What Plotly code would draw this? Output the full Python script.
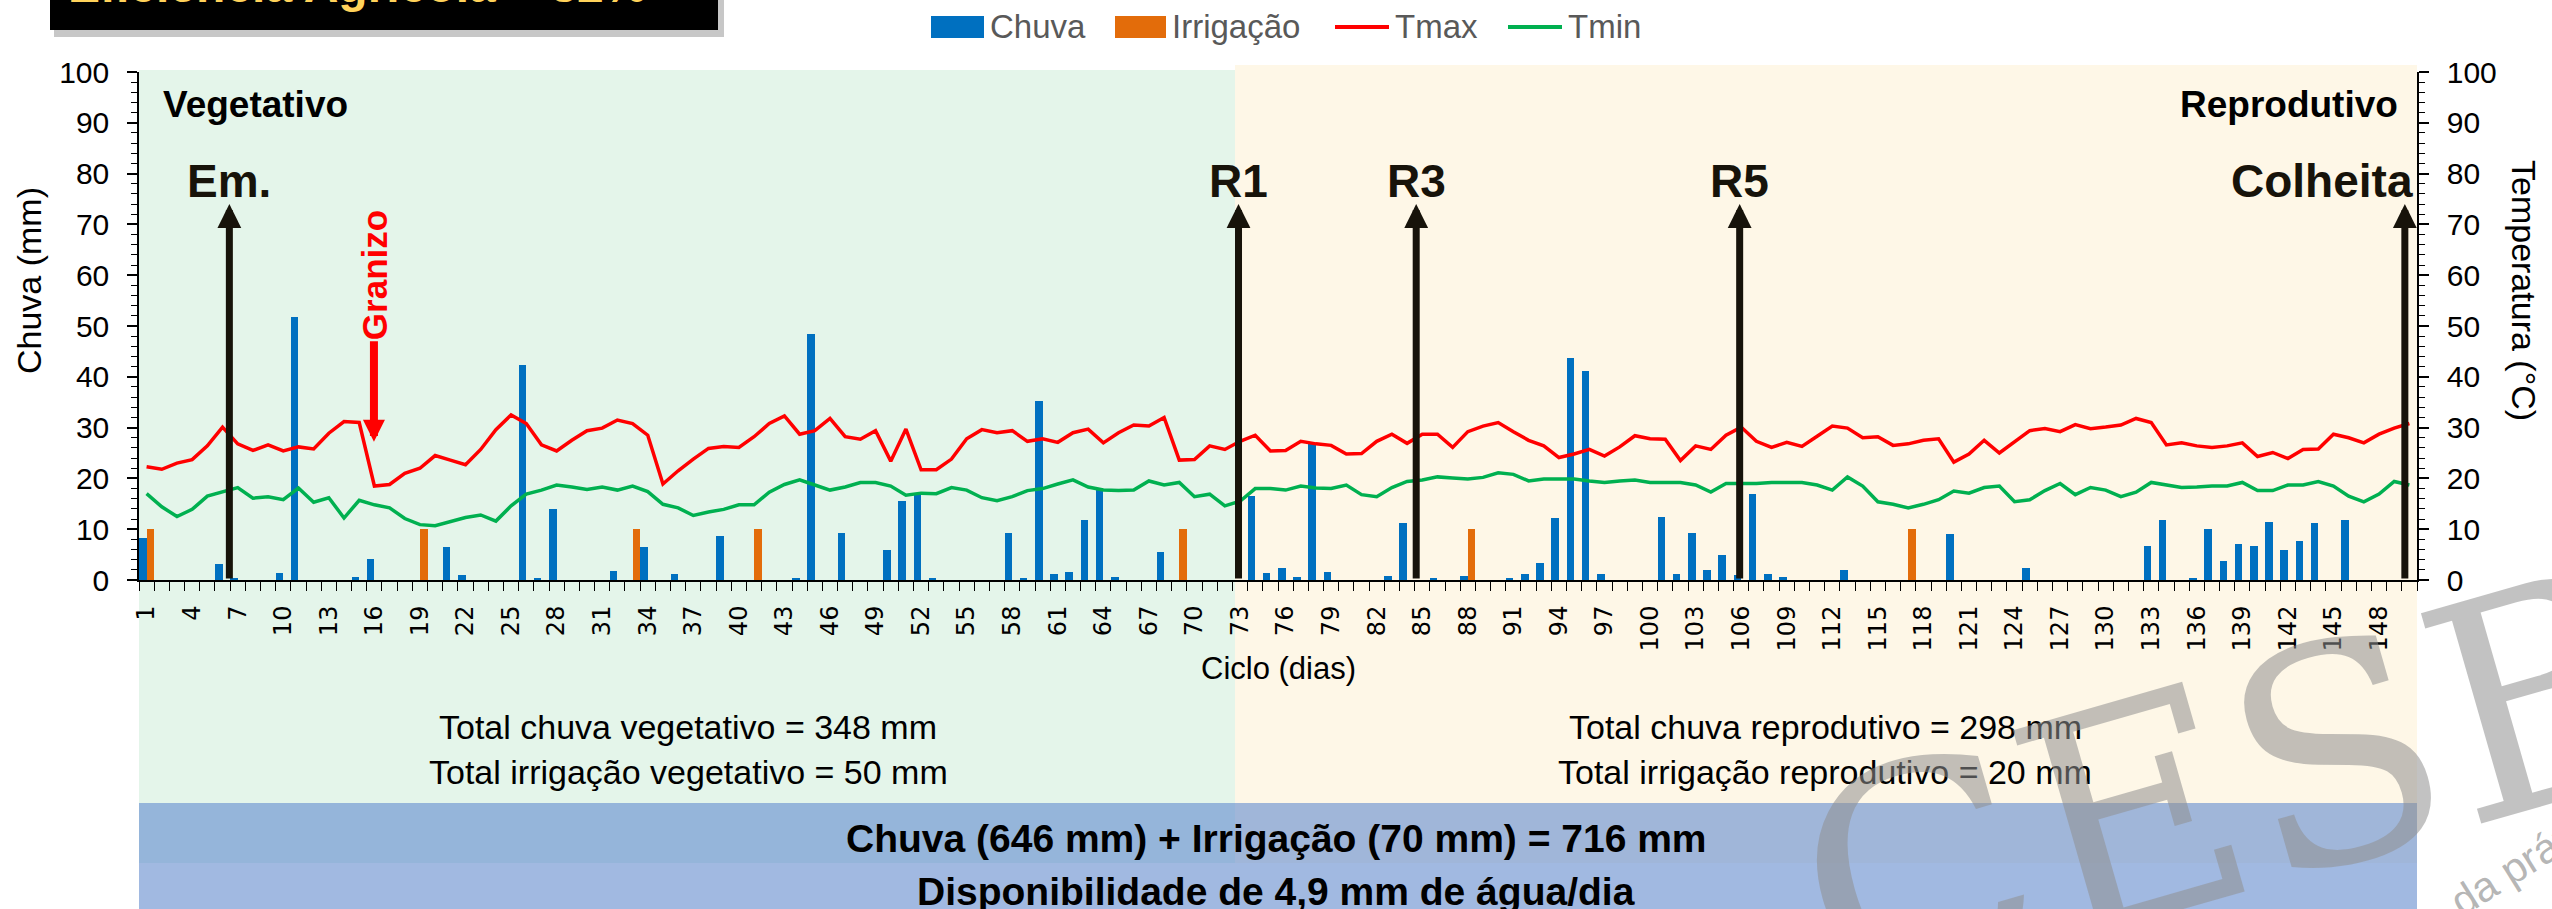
import plotly.graph_objects as go

# ---------------- data ----------------
days = list(range(1, 151))

chuva = [
    8.2, 0, 0, 0, 0, 3.2, 0.3, 0, 0, 1.3,
    51.8, 0, 0, 0, 0.6, 4.2, 0, 0, 0, 0,
    6.5, 0.9, 0, 0, 0, 42.4, 0.4, 13.9, 0, 0,
    0, 1.8, 0, 6.5, 0, 1.1, 0, 0, 8.7, 0,
    0, 0, 0, 0.4, 48.4, 0, 9.3, 0, 0, 6.0,
    15.5, 16.7, 0.4, 0, 0, 0, 0, 9.3, 0.4, 35.2,
    1.1, 1.5, 11.8, 18.0, 0.6, 0, 0, 5.6, 0, 0,
    0, 0, 0, 16.5, 1.3, 2.4, 0.6, 26.8, 1.5, 0,
    0, 0, 0.8, 11.3, 0, 0.4, 0, 0.8, 0, 0,
    0.4, 1.1, 3.4, 12.3, 43.7, 41.1, 1.1, 0, 0, 0,
    12.5, 1.1, 9.3, 1.9, 4.9, 0.9, 16.9, 1.1, 0.6, 0,
    0, 0, 1.9, 0, 0, 0, 0, 0, 0, 9.0,
    0, 0, 0, 0, 2.4, 0, 0, 0, 0, 0,
    0, 0, 6.7, 11.8, 0, 0.4, 10.0, 3.7, 7.0, 6.7,
    11.5, 6.0, 7.7, 11.3, 0, 11.8, 0, 0, 0, 0,
]

irrigacao = [
    10, 0, 0, 0, 0, 0, 0, 0, 0, 0,
    0, 0, 0, 0, 0, 0, 0, 0, 10, 0,
    0, 0, 0, 0, 0, 0, 0, 0, 0, 0,
    0, 0, 10, 0, 0, 0, 0, 0, 0, 0,
    10, 0, 0, 0, 0, 0, 0, 0, 0, 0,
    0, 0, 0, 0, 0, 0, 0, 0, 0, 0,
    0, 0, 0, 0, 0, 0, 0, 0, 10, 0,
    0, 0, 0, 0, 0, 0, 0, 0, 0, 0,
    0, 0, 0, 0, 0, 0, 0, 10, 0, 0,
    0, 0, 0, 0, 0, 0, 0, 0, 0, 0,
    0, 0, 0, 0, 0, 0, 0, 0, 0, 0,
    0, 0, 0, 0, 0, 0, 10, 0, 0, 0,
    0, 0, 0, 0, 0, 0, 0, 0, 0, 0,
    0, 0, 0, 0, 0, 0, 0, 0, 0, 0,
    0, 0, 0, 0, 0, 0, 0, 0, 0, 0,
]

tmax = [
    22.3, 21.8, 23.0, 23.7, 26.4, 30.1, 26.8, 25.5, 26.6, 25.4,
    26.2, 25.8, 28.9, 31.2, 31.0, 18.5, 18.8, 21.0, 22.0, 24.5,
    23.6, 22.7, 25.7, 29.6, 32.5, 30.8, 26.6, 25.4, 27.5, 29.4,
    29.9, 31.5, 30.8, 28.5, 18.9, 21.5, 23.8, 25.9, 26.3, 26.1,
    28.2, 30.8, 32.3, 28.7, 29.4, 31.8, 28.2, 27.7, 29.4, 23.4,
    29.7, 21.7, 21.7, 23.8, 27.8, 29.6, 29.0, 29.4, 27.3, 27.8,
    27.1, 29.0, 29.7, 27.0, 29.0, 30.5, 30.3, 32.0, 23.6, 23.7,
    26.4, 25.7, 27.3, 28.5, 25.4, 25.5, 27.3, 26.8, 26.5, 24.8,
    24.9, 27.3, 28.7, 26.9, 28.7, 28.7, 26.1, 29.2, 30.3, 31.0,
    29.2, 27.5, 26.4, 24.1, 24.8, 25.7, 24.4, 26.2, 28.4, 27.8,
    27.7, 23.5, 26.4, 25.7, 28.5, 30.1, 27.3, 26.1, 27.1, 26.3,
    28.3, 30.3, 29.9, 28.0, 28.2, 26.5, 26.8, 27.5, 27.8, 23.2,
    24.8, 27.5, 25.0, 27.3, 29.4, 29.8, 29.2, 30.6, 29.8, 30.1,
    30.5, 31.8, 31.0, 26.6, 27.0, 26.4, 26.1, 26.4, 27.0, 24.3,
    25.1, 23.9, 25.7, 25.8, 28.7, 28.0, 27.0, 28.7, 29.9, 30.8,
]

tmin = [
    17.0, 14.4, 12.5, 13.9, 16.5, 17.3, 18.2, 16.1, 16.4, 15.8,
    18.1, 15.3, 16.2, 12.2, 15.7, 14.8, 14.2, 12.1, 10.9, 10.7,
    11.5, 12.3, 12.8, 11.6, 14.6, 16.9, 17.7, 18.7, 18.3, 17.8,
    18.3, 17.7, 18.5, 17.4, 14.9, 14.2, 12.7, 13.4, 13.9, 14.8,
    14.8, 17.3, 18.8, 19.7, 18.7, 17.7, 18.3, 19.2, 19.2, 18.5,
    16.7, 17.1, 17.0, 18.2, 17.7, 16.2, 15.6, 16.4, 17.6, 18.0,
    18.9, 19.7, 18.3, 17.7, 17.6, 17.7, 19.5, 18.7, 19.2, 16.4,
    16.9, 14.6, 15.5, 18.0, 18.0, 17.7, 18.5, 18.1, 18.0, 18.7,
    16.8, 16.4, 18.2, 19.4, 19.7, 20.3, 20.1, 19.9, 20.2, 21.1,
    20.8, 19.5, 19.9, 19.9, 19.9, 19.5, 19.2, 19.5, 19.7, 19.2,
    19.2, 19.2, 18.7, 17.3, 19.0, 19.0, 19.0, 19.2, 19.2, 19.2,
    18.7, 17.7, 20.3, 18.5, 15.4, 14.9, 14.2, 14.9, 15.8, 17.5,
    17.1, 18.2, 18.5, 15.4, 15.8, 17.6, 19.0, 16.8, 18.2, 17.7,
    16.4, 17.3, 19.2, 18.7, 18.2, 18.3, 18.5, 18.5, 19.2, 17.6,
    17.6, 18.7, 18.7, 19.4, 18.5, 16.5, 15.4, 16.9, 19.4, 18.7,
]

tick_days = days[::3]
tick_labels = [str(d) for d in tick_days]

stage_names = ["Em.", "R1", "R3", "R5", "Colheita"]
stage_days = [6.45, 72.9, 84.6, 105.9, 149.7]
phase_boundary = 72.67
granizo_day = 15.97

legend_names = ["Chuva", "Irrigação", "Tmax", "Tmin"]

# ---------------- style ----------------
W, H = 2552, 909
L, R, T, B = 139, 135, 72, 329
PW = W - L - R
PH = H - T - B

FONT = "Liberation Sans Narrow, Arial Narrow, sans-serif"
TICKFONT = "DejaVu Sans"
BLUE = "#0070C0"
ORANGE = "#E36C0A"
RED = "#FF0000"
GREEN = "#00B050"
DARK = "#17130A"
GREEN_BG = "#E4F5EA"
BEIGE_BG = "#FEF7E7"


def px_x(px):
    return (px - L) / PW


def px_y(py):
    return (H - B - py) / PH


def text_ann(txt, px, py, size, color="#000000", xanchor="center", yanchor="middle",
             angle=0, family=FONT):
    return dict(xref="paper", yref="paper", x=px_x(px), y=px_y(py), text=txt,
                showarrow=False, xanchor=xanchor, yanchor=yanchor, textangle=angle,
                font=dict(family=family, size=size, color=color))


fig = go.Figure()

fig.add_trace(go.Bar(x=days, y=chuva, name="Chuva", marker_color=BLUE,
                     marker_line_width=0, showlegend=False, yaxis="y"))
fig.add_trace(go.Bar(x=days, y=irrigacao, name="Irrigação", marker_color=ORANGE,
                     marker_line_width=0, showlegend=False, yaxis="y"))
fig.add_trace(go.Scatter(x=days, y=tmax, name="Tmax", mode="lines",
                         line=dict(color=RED, width=3.5), showlegend=False, yaxis="y2"))
fig.add_trace(go.Scatter(x=days, y=tmin, name="Tmin", mode="lines",
                         line=dict(color=GREEN, width=3.5), showlegend=False, yaxis="y2"))

shapes = []
# phase backgrounds
shapes.append(dict(type="rect", xref="x", yref="paper", x0=0.5, x1=phase_boundary,
                   y0=px_y(863), y1=px_y(70), fillcolor=GREEN_BG, line_width=0, layer="below"))
shapes.append(dict(type="rect", xref="x", yref="paper", x0=phase_boundary, x1=150.5,
                   y0=px_y(863), y1=px_y(65), fillcolor=BEIGE_BG, line_width=0, layer="below"))
# summary bands
shapes.append(dict(type="rect", xref="paper", yref="paper", x0=0, x1=1,
                   y0=px_y(863), y1=px_y(803), fillcolor="rgba(92,135,206,0.58)",
                   line_width=0, layer="below"))
shapes.append(dict(type="rect", xref="paper", yref="paper", x0=0, x1=1,
                   y0=px_y(915), y1=px_y(863), fillcolor="#A1B9E1",
                   line_width=0, layer="below"))
# title box with shadow
shapes.append(dict(type="rect", xref="paper", yref="paper", x0=px_x(54), x1=px_x(724),
                   y0=px_y(37), y1=px_y(-10), fillcolor="rgba(0,0,0,0.22)", line_width=0))
shapes.append(dict(type="rect", xref="paper", yref="paper", x0=px_x(50), x1=px_x(718),
                   y0=px_y(30), y1=px_y(-10), fillcolor="#000000", line_width=0))

# custom legend
leg_items = [
    ("rect", BLUE, 931, 984, 988),
    ("rect", ORANGE, 1115, 1166, 1170),
    ("line", RED, 1335, 1389, 1393),
    ("line", GREEN, 1508, 1562, 1566),
]
annotations = []
for name, (kind, col, x0, x1, tx) in zip(legend_names, leg_items):
    if kind == "rect":
        shapes.append(dict(type="rect", xref="paper", yref="paper", x0=px_x(x0), x1=px_x(x1),
                           y0=px_y(38), y1=px_y(16), fillcolor=col, line_width=0))
    else:
        shapes.append(dict(type="line", xref="paper", yref="paper", x0=px_x(x0), x1=px_x(x1),
                           y0=px_y(27), y1=px_y(27), line=dict(color=col, width=4)))
    annotations.append(text_ann(name, tx, 27, 33, color="#595959", xanchor="left"))

# stage arrows and labels
for name, sx in zip(stage_names, stage_days):
    annotations.append(dict(xref="x", yref="y", x=sx, y=74, axref="x", ayref="y", ax=sx, ay=0,
                            text="", showarrow=True, arrowhead=2, arrowwidth=7, arrowsize=0.68,
                            arrowcolor=DARK, standoff=0, startstandoff=0))
    if name == "Colheita":
        annotations.append(dict(xref="x", yref="y", x=150.4, y=78.5, xanchor="right",
                                yanchor="middle", text="<b>%s</b>" % name, showarrow=False,
                                font=dict(family=FONT, size=46, color=DARK)))
    else:
        annotations.append(dict(xref="x", yref="y", x=sx, y=78.5, xanchor="center",
                                yanchor="middle", text="<b>%s</b>" % name, showarrow=False,
                                font=dict(family=FONT, size=46, color=DARK)))

# phase labels
annotations.append(dict(xref="x", yref="y", x=1.95, y=93.7, xanchor="left", yanchor="middle",
                        text="<b>Vegetativo</b>", showarrow=False,
                        font=dict(family=FONT, size=37, color="#000000")))
annotations.append(dict(xref="x", yref="y", x=149.4, y=93.7, xanchor="right", yanchor="middle",
                        text="<b>Reprodutivo</b>", showarrow=False,
                        font=dict(family=FONT, size=37, color="#000000")))

# Granizo
annotations.append(dict(xref="x", yref="y", x=granizo_day, y=60, textangle=-90,
                        xanchor="center", yanchor="middle",
                        text="<b>Granizo</b>", showarrow=False,
                        font=dict(family=FONT, size=35, color=RED)))
annotations.append(dict(xref="x", yref="y", x=granizo_day, y=27.2, axref="x", ayref="y",
                        ax=granizo_day, ay=47.3, text="", showarrow=True, arrowhead=2,
                        arrowwidth=8, arrowsize=0.55, arrowcolor=RED, standoff=0))

# axis titles
annotations.append(text_ann("Chuva (mm)", 29, 281, 34, angle=-90))
annotations.append(text_ann("Temperatura (°C)", 2524, 290, 34, angle=90))
annotations.append(text_ann("Ciclo (dias)", 1278, 668, 31))

# totals
for txt, cx, cy in [
    ("Total chuva vegetativo = 348 mm", 688, 727),
    ("Total irrigação vegetativo = 50 mm", 688, 772),
    ("Total chuva reprodutivo = 298 mm", 1825, 727),
    ("Total irrigação reprodutivo = 20 mm", 1825, 772),
]:
    annotations.append(text_ann(txt, cx, cy, 34))

annotations.append(text_ann("<b>Chuva (646 mm) + Irrigação (70 mm) = 716 mm</b>", 1276, 838, 39))
annotations.append(text_ann("<b>Disponibilidade de 4,9 mm de água/dia</b>", 1276, 891, 39))

# title (clipped at top of page)
annotations.append(text_ann("<b>Eficiência Agrícola = 82%</b>", 357, 14, 48,
                            color="#FFD25A", yanchor="bottom"))

# watermark
annotations.append(text_ann("CESB", 2228, 788, 300, color="rgba(143,143,143,0.55)",
                            angle=-16, family="DejaVu Serif"))
annotations.append(text_ann("da prática", 2532, 856, 42, color="rgba(150,150,150,0.7)",
                            angle=-32))

yax_common = dict(range=[0, 100], tickmode="linear", tick0=0, dtick=10, ticks="outside",
                  ticklen=10, tickwidth=1.5, tickcolor="black", showline=True, linecolor="black",
                  linewidth=1.5, showgrid=False, zeroline=False,
                  tickfont=dict(family=FONT, size=30, color="#000000"),
                  minor=dict(tickmode="linear", tick0=0, dtick=2, ticks="outside", ticklen=6,
                             tickwidth=1.2, tickcolor="black", showgrid=False))

fig.update_layout(
    width=W, height=H,
    margin=dict(l=L, r=R, t=T, b=B, autoexpand=False),
    paper_bgcolor="white", plot_bgcolor="rgba(0,0,0,0)",
    barmode="group", bargap=0.0, bargroupgap=0.0,
    showlegend=False,
    xaxis=dict(range=[0.5, 150.5], tickmode="array", tickvals=tick_days, ticktext=tick_labels,
               tickangle=-90, ticks="outside", ticklen=14, tickcolor="rgba(0,0,0,0)",
               tickfont=dict(family=TICKFONT, size=24, color="#000000"),
               showline=True, linecolor="black", linewidth=2, showgrid=False, zeroline=False,
               minor=dict(tickmode="array", tickvals=[d - 0.5 for d in days] + [150.5],
                          ticks="outside", ticklen=9, tickwidth=1.3, tickcolor="black",
                          showgrid=False)),
    yaxis=dict(side="left", ticklabelstandoff=12, **yax_common),
    yaxis2=dict(side="right", overlaying="y", ticklabelstandoff=12, **yax_common),
    shapes=shapes,
    annotations=annotations,
)

fig.write_html("out.html", config={"displayModeBar": False},
               post_script="document.body.style.margin='0';document.body.style.overflow='hidden';")
